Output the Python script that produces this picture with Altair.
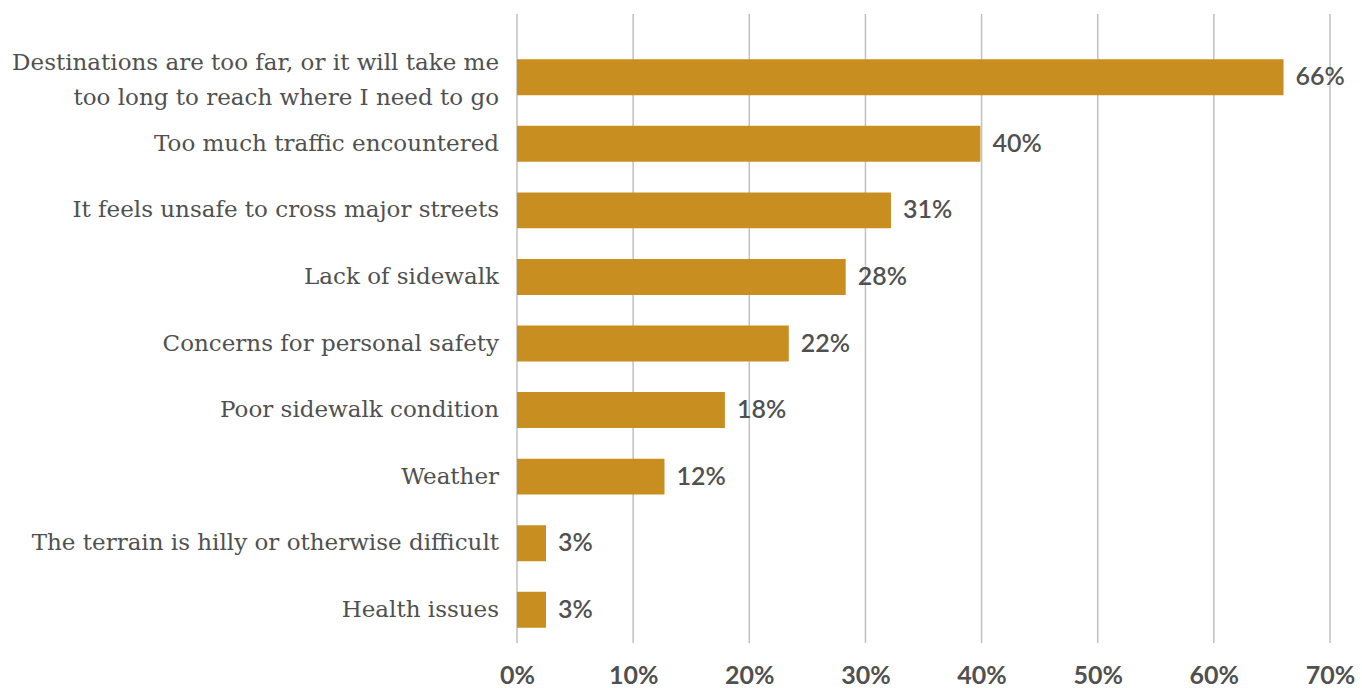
import altair as alt
import pandas as pd

categories = [
    "Destinations are too far, or it will take me|too long to reach where I need to go",
    "Too much traffic encountered",
    "It feels unsafe to cross major streets",
    "Lack of sidewalk",
    "Concerns for personal safety",
    "Poor sidewalk  condition",
    "Weather",
    "The terrain is hilly or otherwise difficult",
    "Health issues",
]
bar_values = [66.0, 39.9, 32.2, 28.3, 23.4, 17.9, 12.7, 2.5, 2.5]
value_labels = ["66%", "40%", "31%", "28%", "22%", "18%", "12%", "3%", "3%"]
tick_values = [0, 10, 20, 30, 40, 50, 60, 70]

df = pd.DataFrame({"cat": categories, "val": bar_values, "lab": value_labels})
grid_df = pd.DataFrame({"t": tick_values})

W, H = 813, 599
BAR = "#C98E20"
TXT = "#505050"

x_scale = alt.Scale(domain=[0, 70], nice=False, zero=True)
y_scale = alt.Scale(paddingInner=0.46, paddingOuter=0.23)
x_axis = alt.Axis(values=tick_values, grid=False, domain=False, ticks=False,
                  labelExpr="datum.value + '%'", labelFontSize=25,
                  labelFont="Lato", labelFontWeight="bold", labelColor=TXT,
                  labelPadding=20, labelFlush=False, labelOverlap=False,
                  title=None)

grid = alt.Chart(grid_df).mark_rule(color="#c0c0c0", strokeWidth=1.5).encode(
    x=alt.X("t:Q", scale=x_scale, axis=x_axis),
    y=alt.value(-30),
    y2=alt.value(H),
)

bars = alt.Chart(df).mark_bar(color=BAR).encode(
    x=alt.X("val:Q", scale=x_scale, axis=x_axis),
    y=alt.Y("cat:N", sort=categories, scale=y_scale, axis=None),
)

label_base = alt.Chart(df).transform_calculate(
    lines="split(datum.cat, '|')",
    n="length(split(datum.cat, '|'))",
)

ylabels_single = label_base.transform_filter("datum.n == 1").mark_text(
    align="right", baseline="middle", dx=-18, fontSize=23,
    font="DejaVu Serif", color=TXT, lineHeight=35).encode(
    x=alt.value(0),
    y=alt.Y("cat:N", sort=categories, scale=y_scale, axis=None),
    text="lines:N",
)

ylabels_multi = label_base.transform_filter("datum.n > 1").mark_text(
    align="right", baseline="middle", dx=-18, dy=-14, fontSize=23,
    font="DejaVu Serif", color=TXT, lineHeight=35).encode(
    x=alt.value(0),
    y=alt.Y("cat:N", sort=categories, scale=y_scale, axis=None),
    text="lines:N",
)

texts = alt.Chart(df).mark_text(align="left", baseline="middle", dx=12, fontSize=25,
                                font="Lato", fontWeight=600, color=TXT).encode(
    x=alt.X("val:Q", scale=x_scale, axis=x_axis),
    y=alt.Y("cat:N", sort=categories, scale=y_scale, axis=None),
    text="lab:N",
)

chart = alt.layer(grid, bars, texts, ylabels_single, ylabels_multi).properties(
    width=W, height=H,
    background="white",
    autosize=alt.AutoSizeParams(type="none"),
    padding={"left": 517, "top": 44, "right": 32, "bottom": 45},
).configure_view(strokeWidth=0)

chart.save("out.html", embed_options={"renderer": "svg", "actions": False})
